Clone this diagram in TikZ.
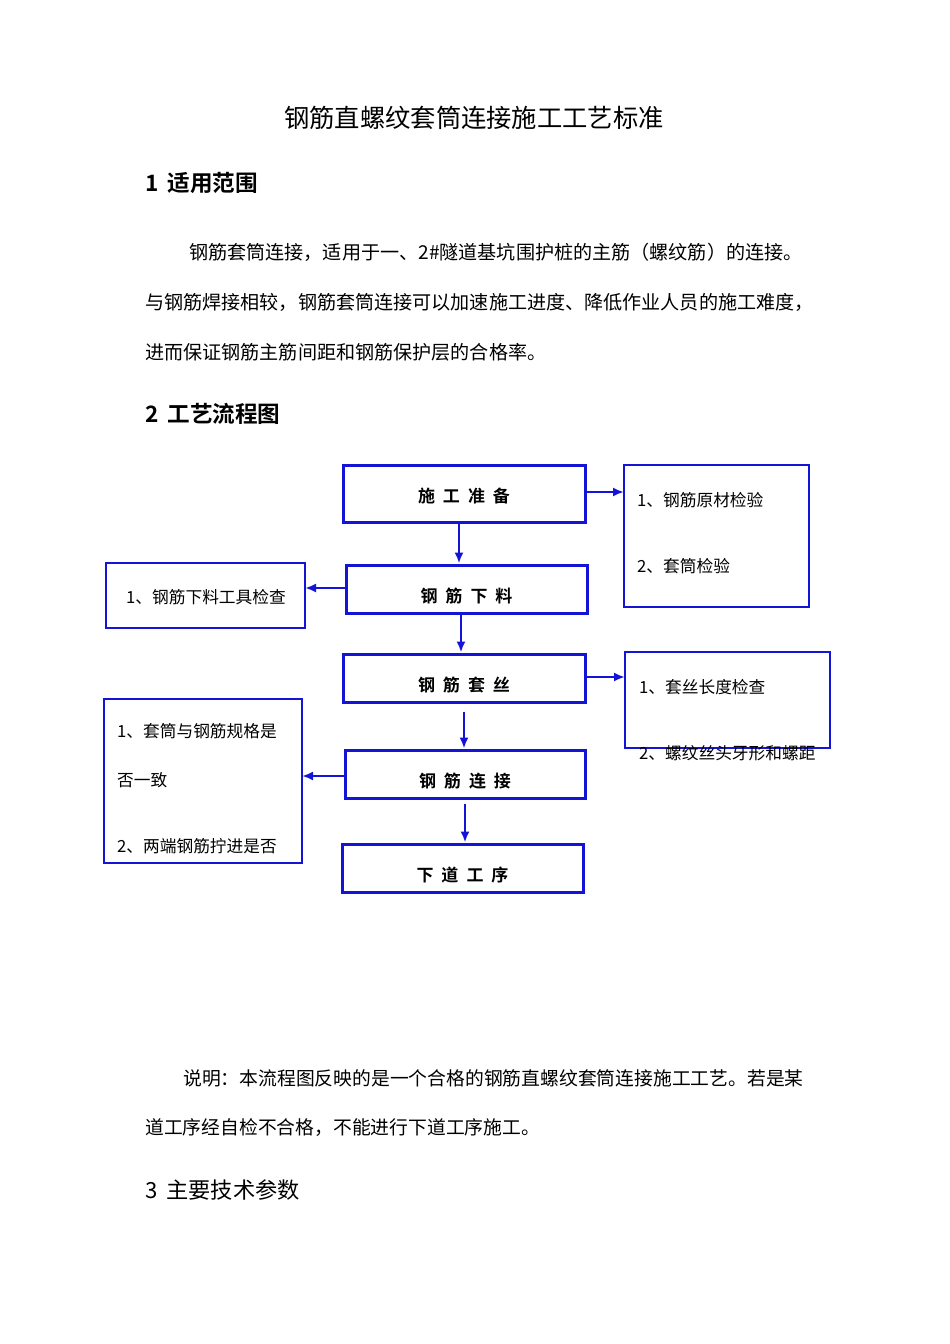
\documentclass[tikz,border=0pt]{standalone}
\usepackage{fontspec}
\newfontfamily\cjk{Noto Sans CJK SC}[BoldFont={Noto Sans CJK SC Bold}]
\usetikzlibrary{arrows.meta}
\definecolor{fblue}{RGB}{20,20,215}
\newcommand{\gapsp}{\hspace{8pt}}
\tikzset{
  txt/.style={font=\cjk, anchor=west, inner sep=0pt, text=black},
  body/.style={txt, font=\cjk\fontsize{19.1}{22}\selectfont},
  head/.style={txt, font=\cjk\bfseries\fontsize{22.6}{26}\selectfont},
  stepbox/.style={draw=fblue, line width=3pt, fill=white, minimum height=#1, font=\cjk\bfseries\fontsize{17}{19}\selectfont, inner sep=0pt, text height=26pt, text depth=0pt},
  sidebox/.style={draw=fblue, line width=2.8pt},
  side/.style={txt, font=\cjk\fontsize{16.7}{19}\selectfont},
  flow/.style={draw=fblue, line width=2.6pt, -{Latex[length=11pt,width=9pt]}},
}
\begin{document}
\begin{tikzpicture}[x=1pt,y=-1pt]
\useasboundingbox[fill=white] (0,0) rectangle (950,1344);

% texts
\node[txt, anchor=center, font=\cjk\fontsize{25.3}{28}\selectfont] (title) at (474,118) {钢筋直螺纹套筒连接施工工艺标准};
\node[head] (h1) at (145,183) {1\hspace{9pt}适用范围};
\node[body] (p1) at (189,252) {钢筋套筒连接，适用于一、2\#隧道基坑围护桩的主筋（螺纹筋）的连接。};
\node[body] (p2) at (145,302) {与钢筋焊接相较，钢筋套筒连接可以加速施工进度、降低作业人员的施工难度，};
\node[body] (p3) at (145,352) {进而保证钢筋主筋间距和钢筋保护层的合格率。};
\node[head] (h2) at (145,414) {2\hspace{9pt}工艺流程图};

% main steps
\node[stepbox=57pt, minimum width=242pt, text height=17pt] (s1) at (464,493.5) {施\gapsp 工\gapsp 准\gapsp 备};
\node[stepbox=48pt, minimum width=241pt] (s2) at (466.5,589) {钢\gapsp 筋\gapsp 下\gapsp 料};
\node[stepbox=48pt, minimum width=242pt] (s3) at (464,678) {钢\gapsp 筋\gapsp 套\gapsp 丝};
\node[stepbox=48pt, minimum width=240pt] (s4) at (465,774) {钢\gapsp 筋\gapsp 连\gapsp 接};
\node[stepbox=48pt, minimum width=241pt] (s5) at (462.5,868) {下\gapsp 道\gapsp 工\gapsp 序};

% side boxes
\draw[sidebox] (624,465) rectangle (809,607);
\coordinate (r1) at (624,492);
\node[side] (r1a) at (637,500) {1、钢筋原材检验};
\node[side] (r1b) at (637,566) {2、套筒检验};

\draw[sidebox] (106,563) rectangle (305,628);
\coordinate (l1) at (305,588);
\node[side] (l1a) at (126,597) {1、钢筋下料工具检查};

\draw[sidebox] (625,652) rectangle (830,748);
\coordinate (r2) at (625,677);
\node[side] (r2a) at (639,687) {1、套丝长度检查};
\node[side] (r2b) at (639,753) {2、螺纹丝头牙形和螺距};

\draw[sidebox] (104,699) rectangle (302,863);
\coordinate (l2) at (302,776);
\node[side] (l2a) at (117,731) {1、套筒与钢筋规格是};
\node[side] (l2b) at (117,780) {否一致};
\node[side] (l2c) at (117,846) {2、两端钢筋拧进是否};

% connectors
\draw[flow] (s1.east |- r1) -- (r1);
\draw[flow] ([xshift=-5pt]s1.south) -- ([xshift=-7.5pt]s2.north);
\draw[flow] (s2.west |- l1) -- (l1);
\draw[flow] ([xshift=-5.5pt]s2.south) -- ([xshift=-3pt]s3.north);
\draw[flow] (s3.east |- r2) -- (r2);
\draw[flow] ([yshift=-8pt]s3.south) -- ([xshift=-1pt]s4.north);
\draw[flow] (s4.west |- l2) -- (l2);
\draw[flow] ([yshift=-4pt]s4.south) -- ([xshift=2.5pt]s5.north);

% bottom texts
\node[txt, font=\cjk\fontsize{18.8}{22}\selectfont] (d1) at (183,1078) {说明：本流程图反映的是一个合格的钢筋直螺纹套筒连接施工工艺。若是某};
\node[txt, font=\cjk\fontsize{18.8}{22}\selectfont] (d2) at (145,1128) {道工序经自检不合格，不能进行下道工序施工。};
\node[txt, font=\cjk\fontsize{22.2}{26}\selectfont] (h3) at (145,1190) {3\hspace{9pt}主要技术参数};
\end{tikzpicture}
\end{document}
